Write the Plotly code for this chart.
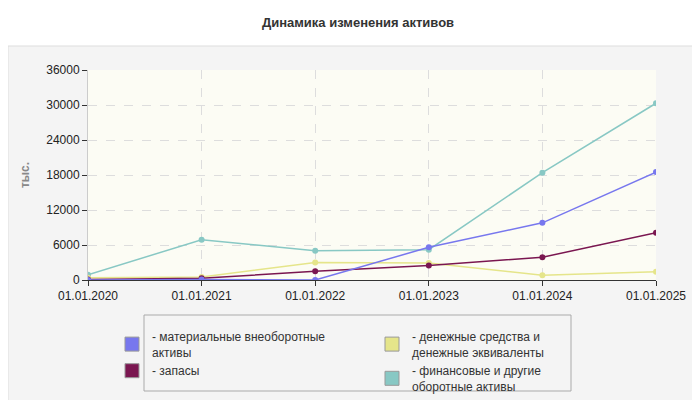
import plotly.graph_objects as go

dates = ["01.01.2020", "01.01.2021", "01.01.2022", "01.01.2023", "01.01.2024", "01.01.2025"]
names = ["- материальные внеоборотные<br>активы", "- денежные средства и<br>денежные эквиваленты",
         "- запасы", "- финансовые и другие<br>оборотные активы"]
material = [0, 100, 0, 5600, 9800, 18500]
cash = [400, 500, 3000, 2900, 800, 1400]
stocks = [100, 300, 1500, 2500, 3900, 8100]
financial = [900, 6900, 5000, 5200, 18400, 30300]
colors = ["#7777ee", "#e5e58a", "#7a1650", "#88c8c4"]
series = [material, cash, stocks, financial]
draw_order = [3, 1, 2, 0]

fig = go.Figure()
for i in draw_order:
    fig.add_trace(go.Scatter(x=dates, y=series[i], mode="lines+markers", showlegend=False,
                             line=dict(color=colors[i], width=1.5), marker=dict(size=6, color=colors[i])))
for i in range(4):
    fig.add_trace(go.Scatter(x=[None], y=[None], mode="markers", name=names[i],
                             marker=dict(symbol="square", size=14, color=colors[i],
                                         line=dict(color="#999", width=1))))

fig.update_layout(
    width=700, height=400, paper_bgcolor="white", plot_bgcolor="rgba(0,0,0,0)",
    margin=dict(l=80, r=52, t=62, b=128, autoexpand=False),
    font=dict(family="Liberation Sans, Arial", size=12, color="#333"),
    title=dict(text="<b>Динамика изменения активов</b>", x=0.5, xanchor="center", y=0.975, yanchor="top",
               font=dict(size=13, color="#333"), automargin=False),
    xaxis=dict(type="category", range=[0, 5], showgrid=True, gridcolor="#ddd", griddash="dash",
               showline=True, linecolor="#333", ticks="outside", ticklen=5, tickcolor="#333",
               tickfont=dict(size=12, color="#222"), automargin=False),
    yaxis=dict(range=[0, 36000], dtick=6000, tickformat="d", showgrid=True, gridcolor="#ddd", griddash="dash",
               showline=True, linecolor="#ccc", ticks="outside", ticklen=5, tickcolor="#333", zeroline=False,
               title=dict(text="<b>тыс.</b>", font=dict(size=12, color="#888"), standoff=14),
               tickfont=dict(size=12, color="#222"), automargin=False),
    legend=dict(orientation="h", x=0.5, xanchor="center", y=-0.2, yanchor="top",
                entrywidth=215, bgcolor="rgba(0,0,0,0)", font=dict(size=12, color="#333"),
                itemwidth=30, traceorder="normal"),
    shapes=[
        dict(type="rect", xref="paper", yref="paper", x0=-80/568, x1=1+49/568, y0=-125/210, y1=1+24/210,
             fillcolor="#f4f4f4", line=dict(color="#ddd", width=1), layer="below"),
        dict(type="rect", xref="paper", yref="paper", x0=0, x1=1, y0=0, y1=1,
             fillcolor="#fcfcf4", line=dict(width=0), layer="below"),
        dict(type="rect", xref="paper", yref="paper", x0=56/568, x1=483/568, y0=-111/210, y1=-35/210,
             fillcolor="rgba(0,0,0,0)", line=dict(color="#aaa", width=1), layer="below"),
    ],
)
fig.write_html("out.html")
